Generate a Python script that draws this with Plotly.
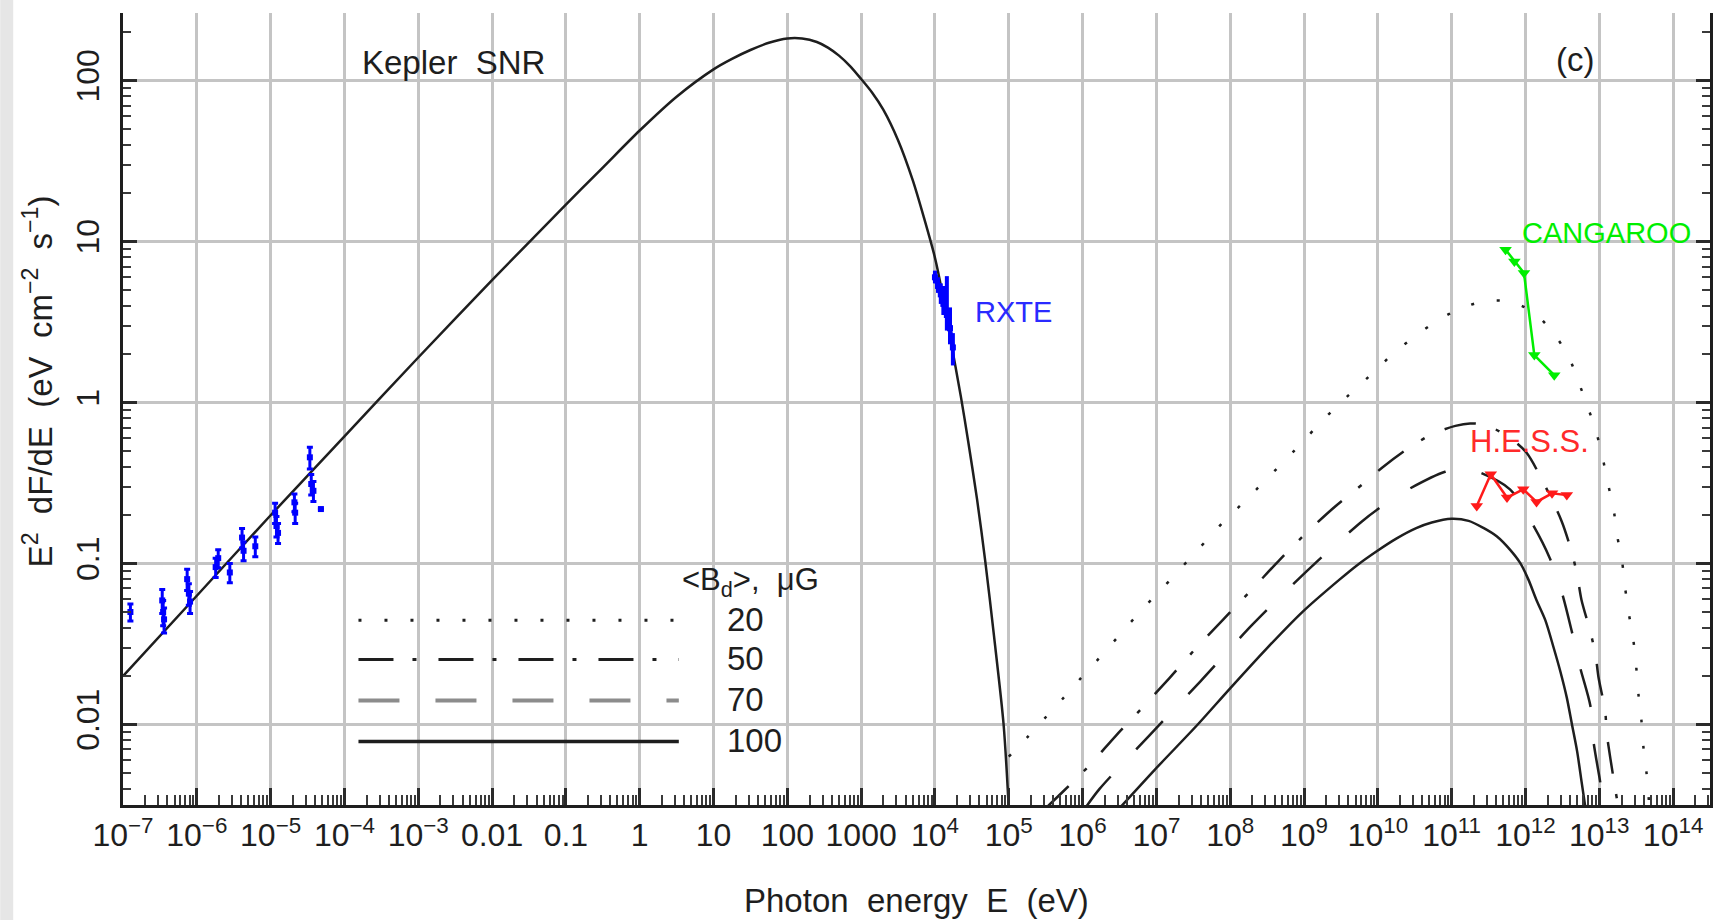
import numpy as np
import plotly.graph_objects as go

# ---- Model curves: log10(E / eV) and log10(E^2 dF/dE / eV cm^-2 s^-1) ----
SYNC_LOG_E = [-7.0, -6.0, -5.0, -4.0, -3.0, -2.0, -1.0, -0.5, 0.0, 0.5, 1.0, 1.25, 1.5, 1.75,
              2.0, 2.2, 2.4, 2.55, 2.7, 2.85, 3.0, 3.15, 3.3, 3.5, 3.7, 3.85, 4.0, 4.1, 4.2,
              4.35, 4.45, 4.57, 4.68, 4.8, 4.93, 5.0]
SYNC_LOG_F = [-1.70, -1.20, -0.70, -0.21, 0.28, 0.76, 1.23, 1.46, 1.69, 1.90, 2.07, 2.135, 2.19, 2.235,
              2.262, 2.262, 2.24, 2.205, 2.155, 2.09, 2.01, 1.925, 1.82, 1.63, 1.38, 1.15, 0.90, 0.68, 0.42,
              0.04, -0.24, -0.60, -0.98, -1.45, -2.00, -2.52]

IC20_LOG_E = [5.0, 5.25, 5.51, 5.75, 5.98, 6.22, 6.47, 6.70, 6.94, 7.19, 7.43, 7.67, 7.91, 8.18,
              8.95, 9.19, 9.45, 9.97, 10.22, 10.5, 10.81, 11.12, 11.46, 11.82, 12.14, 12.38, 12.58,
              12.71, 12.83, 12.95, 13.04, 13.11, 13.19, 13.24, 13.31, 13.35, 13.40, 13.46, 13.50,
              13.53, 13.57, 13.60, 13.64, 13.68]
IC20_LOG_F = [-2.20, -2.08, -1.95, -1.83, -1.71, -1.59, -1.46, -1.34, -1.22, -1.10, -0.98, -0.86, -0.74, -0.62,
              -0.26, -0.14, -0.02, 0.20, 0.31, 0.41, 0.51, 0.584, 0.631, 0.625, 0.549, 0.43, 0.29,
              0.139, -0.01, -0.17, -0.33, -0.49, -0.65, -0.82, -0.99, -1.15, -1.31, -1.47, -1.64,
              -1.81, -1.97, -2.15, -2.30, -2.52]

IC50_LOG_E = [5.5, 5.75, 6.08, 6.45, 6.81, 7.18, 7.54, 8.28, 8.67, 9.03, 9.41, 9.84, 10.07, 10.41,
              10.74, 11.05, 11.25, 11.46, 11.76, 12.01, 12.22, 12.49, 12.63, 12.70, 12.76, 12.88,
              12.95, 12.99, 13.08, 13.10, 13.15, 13.22, 13.26]
IC50_LOG_F = [-2.52, -2.41, -2.26, -2.07, -1.895, -1.71, -1.524, -1.168, -0.977, -0.81, -0.65, -0.49, -0.40, -0.285,
              -0.195, -0.145, -0.13, -0.14, -0.21, -0.309, -0.476, -0.737, -0.935, -1.07, -1.228, -1.426,
              -1.57, -1.708, -1.916, -2.05, -2.21, -2.41, -2.52]

IC70_LOG_E = [6.05, 6.23, 6.90, 7.60, 8.30, 9.03, 9.78, 10.1, 10.41, 10.91, 11.15, 11.38, 11.79,
              12.10, 12.33, 12.49, 12.63, 12.74, 12.88, 12.92, 13.01, 13.07]
IC70_LOG_F = [-2.51, -2.40, -2.07, -1.73, -1.38, -1.05, -0.74, -0.63, -0.54, -0.43, -0.41, -0.434, -0.539,
              -0.758, -0.967, -1.175, -1.426, -1.645, -1.885, -2.10, -2.35, -2.52]

IC100_LOG_E = [6.5, 6.98, 7.56, 7.99, 8.49, 8.98, 9.48, 9.72, 9.98, 10.25, 10.52, 10.73, 11.0, 11.23, 11.43,
               11.61, 11.79, 11.93, 12.04, 12.15, 12.27, 12.38, 12.47, 12.56, 12.63, 12.70, 12.76, 12.81]
IC100_LOG_F = [-2.52, -2.28, -2.00, -1.78, -1.53, -1.30, -1.10, -1.01, -0.925, -0.845, -0.78, -0.745, -0.722, -0.735, -0.779,
               -0.831, -0.914, -0.998, -1.10, -1.228, -1.353, -1.52, -1.666, -1.833, -2.00, -2.167, -2.355, -2.51]

# ---- Measurements ----
RADIO_E = [1.26e-7, 3.4e-7, 3.5e-7, 3.6e-7, 7.4e-7, 7.8e-7, 8.1e-7, 1.8e-6, 1.95e-6, 2.8e-6,
           4.1e-6, 4.3e-6, 6.2e-6, 1.15e-5, 1.2e-5, 1.26e-5, 2.1e-5, 2.15e-5, 3.4e-5, 3.55e-5,
           3.8e-5, 4.8e-5]
RADIO_F = [0.050, 0.059, 0.050, 0.045, 0.080, 0.065, 0.058, 0.095, 0.108, 0.088,
           0.145, 0.120, 0.128, 0.207, 0.171, 0.155, 0.240, 0.207, 0.457, 0.312,
           0.283, 0.218]
RADIO_ERR = [0.006, 0.010, 0.009, 0.008, 0.012, 0.010, 0.009, 0.013, 0.014, 0.012,
             0.020, 0.016, 0.018, 0.030, 0.025, 0.022, 0.030, 0.030, 0.070, 0.045,
             0.040, 0.0]

RXTE_E = [1.0e4, 1.1e4, 1.2e4, 1.3e4, 1.45e4, 1.6e4, 1.75e4]
RXTE_F = [6.0, 5.3, 4.7, 4.1, 3.5, 2.9, 2.2]
RXTE_ERR_UP = [0.6, 0.7, 0.8, 1.2, 2.6, 1.0, 0.5]
RXTE_ERR_DN = [0.5, 0.5, 0.6, 0.6, 0.7, 0.6, 0.5]

CANG_LOG_E = [11.73, 11.85, 11.98, 12.12, 12.39]
CANG_LOG_F = [0.95, 0.877, 0.805, 0.295, 0.17]

HESS_LOG_E = [11.34, 11.53, 11.75, 11.97, 12.15, 12.36, 12.56]
HESS_LOG_F = [-0.643, -0.445, -0.59, -0.539, -0.617, -0.564, -0.575]

# ---- Legend for the magnetic field values ----
B_FIELDS = ["20", "50", "70", "100"]
LEGEND_LOG_Y = [-1.353, -1.596, -1.851, -2.106]
LEGEND_LOG_X = [-3.81, 0.53]

X_TICK_EXP = list(range(-7, 15))
X_TICK_TEXT = ["10<sup>−7</sup>", "10<sup>−6</sup>", "10<sup>−5</sup>", "10<sup>−4</sup>", "10<sup>−3</sup>",
               "0.01", "0.1", "1", "10", "100", "1000",
               "10<sup>4</sup>", "10<sup>5</sup>", "10<sup>6</sup>", "10<sup>7</sup>", "10<sup>8</sup>",
               "10<sup>9</sup>", "10<sup>10</sup>", "10<sup>11</sup>", "10<sup>12</sup>",
               "10<sup>13</sup>", "10<sup>14</sup>"]
Y_TICK_VALS = [0.01, 0.1, 1, 10, 100]
Y_TICK_TEXT = ["0.01", "0.1", "1", "10", "100"]

FONT = "Liberation Sans, Arial, Helvetica, sans-serif"
INK = "#1e1e1e"


def lin(v):
    return np.power(10.0, np.asarray(v, dtype=float))


fig = go.Figure()


def curve(le, lf, dash, width=2.5):
    fig.add_trace(go.Scatter(x=lin(le), y=lin(lf), mode="lines",
                             line=dict(color=INK, width=width, dash=dash,
                                       shape="spline", smoothing=0.8),
                             showlegend=False, hoverinfo="skip"))


curve(SYNC_LOG_E, SYNC_LOG_F, "solid")
curve(IC20_LOG_E, IC20_LOG_F, "3px,23px")
curve(IC50_LOG_E, IC50_LOG_F, "32px,21px,4px,22px")
curve(IC70_LOG_E, IC70_LOG_F, "39px,37px")
curve(IC100_LOG_E, IC100_LOG_F, "solid")

# radio
fig.add_trace(go.Scatter(x=RADIO_E, y=RADIO_F, mode="markers",
                         marker=dict(symbol="square", size=6, color="#0000ff"),
                         error_y=dict(type="data", array=RADIO_ERR, color="#0000ff",
                                      thickness=3, width=3),
                         showlegend=False))
# RXTE
fig.add_trace(go.Scatter(x=RXTE_E, y=RXTE_F, mode="lines+markers",
                         line=dict(color="#0000ff", width=4),
                         marker=dict(symbol="square", size=6, color="#0000ff"),
                         error_y=dict(type="data", symmetric=False, array=RXTE_ERR_UP,
                                      arrayminus=RXTE_ERR_DN, color="#0000ff",
                                      thickness=4, width=0),
                         showlegend=False))
# CANGAROO
fig.add_trace(go.Scatter(x=lin(CANG_LOG_E), y=lin(CANG_LOG_F), mode="lines+markers",
                         line=dict(color="#00ee00", width=2.5),
                         marker=dict(symbol="triangle-down", size=11, color="#00ee00"),
                         showlegend=False))
# H.E.S.S.
fig.add_trace(go.Scatter(x=lin(HESS_LOG_E), y=lin(HESS_LOG_F), mode="lines+markers",
                         line=dict(color="#ff1a1a", width=2.5),
                         marker=dict(symbol="triangle-down", size=11, color="#ff1a1a"),
                         showlegend=False))

# legend samples
legend_styles = [("3px,23px", INK, 3), ("35px,19px,4px,22px", INK, 3),
                 ("41px,36px", "#8c8c8c", 4), ("solid", INK, 3.5)]
for ly, (dash, col, w) in zip(LEGEND_LOG_Y, legend_styles):
    fig.add_trace(go.Scatter(x=lin(LEGEND_LOG_X), y=lin([ly, ly]), mode="lines",
                             line=dict(color=col, width=w, dash=dash),
                             showlegend=False, hoverinfo="skip"))

ann = []


def text(x, y, s, size=33, color=INK, xanchor="left", xref="x", yref="y", angle=0):
    ann.append(dict(x=x, y=y, xref=xref, yref=yref, text=s, showarrow=False,
                    xanchor=xanchor, yanchor="middle", textangle=angle,
                    font=dict(family=FONT, size=size, color=color)))


text(-3.79, 2.115, "Kepler  SNR", size=33)
text(12.39, 2.13, "(c)", size=33)
text(4.52, 0.565, "RXTE", size=29, color="#2a2aff")
text(11.93, 1.055, "CANGAROO", size=29, color="#00ee00")
text(11.22, -0.24, "H.E.S.S.", size=31, color="#ff2a2a")
text(0.552, -1.115, "&lt;B<sub>d</sub>&gt;,  μG", size=31)
for lab, ly in zip(B_FIELDS, LEGEND_LOG_Y):
    text(1.16, ly + 0.008, lab, size=33)

text(0.5, -0.12, "Photon  energy  E  (eV)", size=33, xanchor="center", xref="paper", yref="paper")
text(-0.0535, 0.535, "E<sup>2</sup>  dF/dE  (eV  cm<sup>−2</sup>  s<sup>−1</sup>)", size=33,
     xanchor="center", xref="paper", yref="paper", angle=-90)

minor_x = [m * 10.0 ** k for k in range(-8, 15) for m in range(2, 10)]
minor_y = [m * 10.0 ** k for k in range(-3, 3) for m in range(2, 10)]

fig.update_layout(
    width=1717, height=920,
    margin=dict(l=123, r=4, t=13, b=115),
    paper_bgcolor="white", plot_bgcolor="white",
    font=dict(family=FONT, size=32, color=INK),
    annotations=ann,
    shapes=[dict(type="rect", xref="paper", yref="paper", x0=-123 / 1590, x1=-110 / 1590,
                 y0=-115 / 792, y1=1 + 13 / 792, fillcolor="#e6e6e6", line=dict(width=0),
                 layer="below")],
    xaxis=dict(type="log", range=[-7, 14.5],
               tickmode="array", tickvals=[10.0 ** k for k in X_TICK_EXP], ticktext=X_TICK_TEXT,
               ticks="inside", ticklen=17, tickwidth=2.5, tickcolor="#2a2a2a",
               ticklabelstandoff=0,
               showline=True, linecolor=INK, linewidth=3, mirror=False,
               showgrid=True, gridcolor="#c4c4c4", gridwidth=2.5, zeroline=False,
               tickfont=dict(family=FONT, size=32, color=INK),
               minor=dict(tickmode="array", tickvals=minor_x, ticks="inside", ticklen=10,
                          tickwidth=2, tickcolor="#3a3a3a", showgrid=False)),
    yaxis=dict(type="log", range=[-2.5, 2.42],
               tickmode="array", tickvals=Y_TICK_VALS, ticktext=Y_TICK_TEXT, tickangle=-90,
               ticks="inside", ticklen=14, tickwidth=2.5, tickcolor="#2a2a2a",
               ticklabelstandoff=8,
               showline=True, linecolor=INK, linewidth=3, mirror="ticks",
               showgrid=True, gridcolor="#c4c4c4", gridwidth=2.5, zeroline=False,
               tickfont=dict(family=FONT, size=32, color=INK),
               minor=dict(tickmode="array", tickvals=minor_y, ticks="inside", ticklen=8,
                          tickwidth=2, tickcolor="#3a3a3a", showgrid=False)),
)

fig.write_html("out.html")
